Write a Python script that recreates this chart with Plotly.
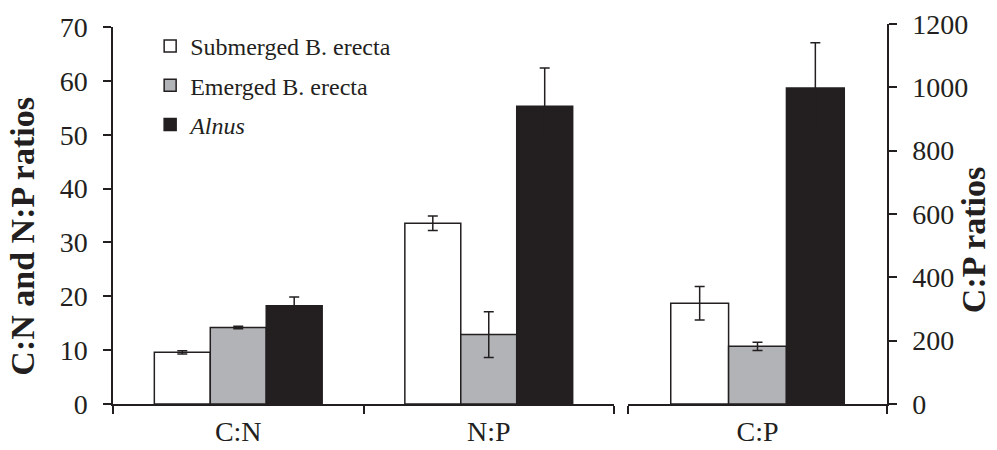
import plotly.graph_objects as go

series = ["Submerged B. erecta", "Emerged B. erecta", "<i>Alnus</i>"]
colors = ["#ffffff", "#b2b3b6", "#231f20"]

cats_left = ["C:N", "N:P"]
cats_right = ["C:P"]

vals_left = {
    "Submerged B. erecta": [9.6, 33.55],
    "Emerged B. erecta": [14.2, 12.9],
    "<i>Alnus</i>": [18.25, 55.3],
}
err_left = {
    "Submerged B. erecta": [0.3, 1.35],
    "Emerged B. erecta": [0.25, 4.25],
    "<i>Alnus</i>": [1.6, 7.1],
}
vals_right = {
    "Submerged B. erecta": [318],
    "Emerged B. erecta": [182],
    "<i>Alnus</i>": [998],
}
err_right = {
    "Submerged B. erecta": [53],
    "Emerged B. erecta": [13],
    "<i>Alnus</i>": [143],
}

left_title = "C:N and N:P ratios"
right_title = "C:P ratios"

FONT = "Liberation Serif"
INK = "#231f20"

fig = go.Figure()
for i, s in enumerate(series):
    fig.add_trace(go.Bar(
        x=cats_left, y=vals_left[s], name=s, legendgroup=s,
        marker=dict(color=colors[i], line=dict(color=INK, width=1.5)),
        error_y=dict(type="data", array=err_left[s], color=INK, thickness=1.5, width=5),
        xaxis="x", yaxis="y",
    ))
for i, s in enumerate(series):
    fig.add_trace(go.Bar(
        x=cats_right, y=vals_right[s], name=s, legendgroup=s, showlegend=False,
        marker=dict(color=colors[i], line=dict(color=INK, width=1.5)),
        error_y=dict(type="data", array=err_right[s], color=INK, thickness=1.5, width=5),
        xaxis="x2", yaxis="y2",
    ))

axis_common = dict(showline=True, linecolor=INK, linewidth=1.5, ticks="outside",
                   tickcolor=INK, tickwidth=1.5, showgrid=False, zeroline=False,
                   automargin=False, ticklen=8,
                   tickfont=dict(family=FONT, size=28, color=INK))

fig.update_layout(
    width=997, height=450,
    margin=dict(l=113, r=110, t=23.5, b=46),
    plot_bgcolor="white", paper_bgcolor="white",
    barmode="group", bargap=0.33, bargroupgap=0,
    font=dict(family=FONT, color=INK),
    xaxis=dict(domain=[0, 0.6473], anchor="y", type="category", range=[-0.5, 1.5],
               tickson="boundaries", ticklabelstandoff=2, **axis_common),
    xaxis2=dict(domain=[0.6654, 1], anchor="y2", type="category", range=[-0.5, 0.5],
                tickson="boundaries", ticklabelstandoff=2, **axis_common),
    yaxis=dict(domain=[0, 0.9921], anchor="x", range=[0, 70], dtick=10,
               ticklabelstandoff=10, **axis_common),
    yaxis2=dict(domain=[0, 1], anchor="x2", side="right", range=[0, 1200], dtick=200,
                ticklabelstandoff=10, **axis_common),
    legend=dict(x=0.048, y=1.0, xanchor="left", yanchor="top",
                font=dict(family=FONT, size=24, color=INK),
                tracegroupgap=5, bgcolor="rgba(0,0,0,0)"),
    showlegend=True,
    annotations=[
        dict(text="<b>%s</b>" % left_title, textangle=-90, xref="paper", yref="paper",
             x=-0.117, y=0.4415, xanchor="center", yanchor="middle", showarrow=False,
             font=dict(family=FONT, size=34, color=INK)),
        dict(text="<b>%s</b>" % right_title, textangle=-90, xref="paper", yref="paper",
             x=1.111, y=0.431, xanchor="center", yanchor="middle", showarrow=False,
             font=dict(family=FONT, size=34, color=INK)),
    ],
)

fig.write_html("out.html", config={"displayModeBar": False},
               post_script="document.body.style.margin='0';")
